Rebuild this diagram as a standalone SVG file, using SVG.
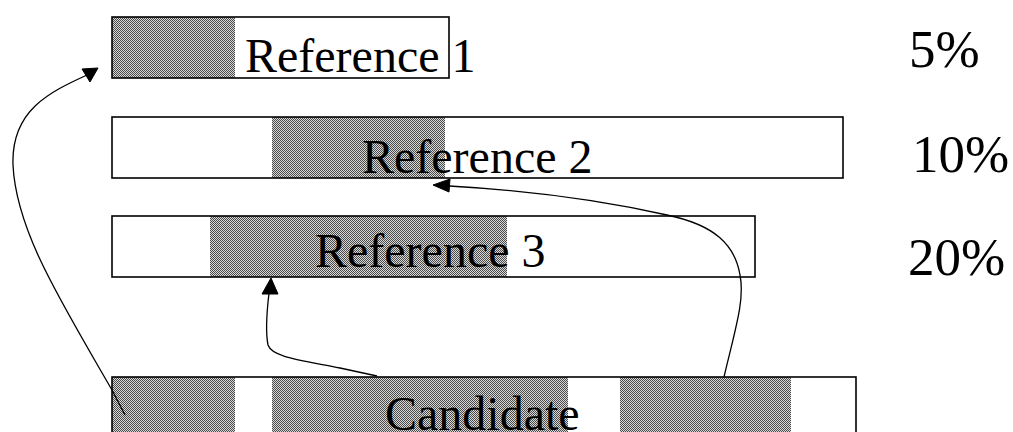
<svg xmlns="http://www.w3.org/2000/svg" width="1013" height="432" viewBox="0 0 1013 432">
<defs>
<pattern id="dither" patternUnits="userSpaceOnUse" width="2" height="2">
<rect width="2" height="2" fill="#d8d8d8"/>
<rect x="0" y="0" width="1" height="1" fill="#4a4a4a"/>
<rect x="1" y="1" width="1" height="1" fill="#4a4a4a"/>
</pattern>
</defs>
<style>
.bg{fill:#fff;stroke:none}
.sh{fill:url(#dither);stroke:none}
.bd{fill:none;stroke:#000;stroke-width:1.6}
.lbl{font-family:"Liberation Serif","Times New Roman",serif;font-size:48px;fill:#000}
.pct{font-family:"Liberation Serif","Times New Roman",serif;font-size:53px;fill:#000}
.ln{fill:none;stroke:#000;stroke-width:1.3}
.ah{fill:#000;stroke:#000;stroke-width:1}
</style>
<rect width="1013" height="432" fill="#fff"/>
<g id="ref1">
<rect class="bg" x="112" y="17" width="337" height="61"/>
<rect class="sh" x="112" y="17" width="123" height="61"/>
<rect class="bd" x="112" y="17" width="337" height="61"/>
<text class="lbl" x="245" y="72">Reference 1</text>
</g>
<g id="ref2">
<rect class="bg" x="112" y="117" width="731" height="61"/>
<rect class="sh" x="272" y="117" width="173" height="61"/>
<rect class="bd" x="112" y="117" width="731" height="61"/>
<text class="lbl" x="362" y="173">Reference 2</text>
</g>
<g id="ref3">
<rect class="bg" x="112" y="216" width="643" height="61"/>
<rect class="sh" x="210" y="216" width="297" height="61"/>
<rect class="bd" x="112" y="216" width="643" height="61"/>
<text class="lbl" x="315" y="267">Reference 3</text>
</g>
<g id="candidate">
<rect class="bg" x="112" y="377" width="744" height="70"/>
<rect class="sh" x="112" y="377" width="123" height="70"/>
<rect class="sh" x="272" y="377" width="296" height="70"/>
<rect class="sh" x="620" y="377" width="171" height="70"/>
<rect class="bd" x="112" y="377" width="744" height="70"/>
<text class="lbl" x="385" y="430">Candidate</text>
</g>
<g id="pct5"><text class="pct" x="909" y="67">5%</text></g>
<g id="pct10"><text class="pct" x="912" y="172">10%</text></g>
<g id="pct20"><text class="pct" x="908" y="275">20%</text></g>
<g id="connectors">
<path class="ln" d="M125,415 L112,390 C 60,300 16,230 13,165 C 11,110 50,92 87,75"/>
<polygon class="ah" points="98,68 82,69 90,82"/>
<path class="ln" d="M377,376 L340,368 C 300,360 272,357 268,345 C 265,330 267,310 269,293"/>
<polygon class="ah" points="271,278 262,294 278,294"/>
<path class="ln" d="M724,377 C 735,330 745,300 740,275 C 735,245 715,225 667,215 C 600,200 520,190 449,186"/>
<polygon class="ah" points="433,185 450,179 449,192"/>
</g>
</svg>
